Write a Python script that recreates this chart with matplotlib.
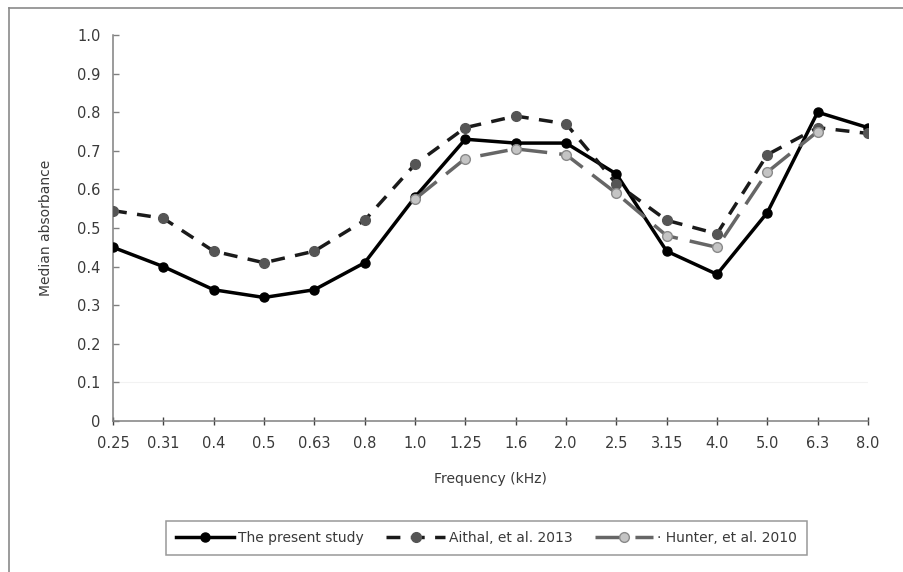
import numpy as np
import matplotlib
matplotlib.use("Agg")
import matplotlib.pyplot as plt
from matplotlib.lines import Line2D

# --- data ---
freq_labels = ["0.25", "0.31", "0.4", "0.5", "0.63", "0.8", "1.0", "1.25",
               "1.6", "2.0", "2.5", "3.15", "4.0", "5.0", "6.3", "8.0"]
present_study = [0.45, 0.40, 0.34, 0.32, 0.34, 0.41, 0.58, 0.73,
                 0.72, 0.72, 0.64, 0.44, 0.38, 0.54, 0.80, 0.76]
aithal_2013 = [0.545, 0.525, 0.44, 0.41, 0.44, 0.52, 0.665, 0.76,
               0.79, 0.77, 0.615, 0.52, 0.485, 0.69, 0.76, 0.745]
hunter_2010 = [np.nan, np.nan, np.nan, np.nan, np.nan, np.nan, 0.575, 0.68,
               0.705, 0.69, 0.59, 0.48, 0.45, 0.645, 0.75, np.nan]
y_ticks = [0, 0.1, 0.2, 0.3, 0.4, 0.5, 0.6, 0.7, 0.8, 0.9, 1.0]
y_tick_labels = ["0", "0.1", "0.2", "0.3", "0.4", "0.5", "0.6", "0.7", "0.8", "0.9", "1.0"]

plt.rcParams['font.family'] = ['DejaVu Sans']
TEXT = '#3a3a3a'
AXIS = '#808080'

fig = plt.figure(figsize=(9.04, 5.72), dpi=100)
ax = fig.add_axes([113 / 904, 1 - 421 / 572, (868 - 113) / 904, (421 - 35) / 572])

x = np.arange(len(freq_labels))

ax.axhline(0.1, color='#f2f2f2', lw=0.8, zorder=0)

ax.plot(x, present_study, color='black', lw=2.5, marker='o', markersize=6.5,
        markerfacecolor='black', markeredgecolor='black', label='The present study', zorder=3)
ax.plot(x, aithal_2013, color='#1a1a1a', lw=2.5, dashes=(4, 3), marker='o', markersize=7,
        markerfacecolor='#555555', markeredgecolor='#555555', label='Aithal, et al. 2013', zorder=4)
ax.plot(x, hunter_2010, color='#666666', lw=2.5, dashes=(8, 3.5), marker='o', markersize=7,
        markerfacecolor='#c4c4c4', markeredgecolor='#8a8a8a', markeredgewidth=1,
        label='\u00b7 Hunter, et al. 2010', zorder=5)

ax.set_xlim(0, len(freq_labels) - 1)
ax.set_ylim(0, 1.0)
ax.set_xticks(x)
ax.set_xticklabels(freq_labels)
ax.set_yticks(y_ticks)
ax.set_yticklabels(y_tick_labels)

for side in ['top', 'right']:
    ax.spines[side].set_visible(False)
for side in ['left', 'bottom']:
    ax.spines[side].set_color(AXIS)
    ax.spines[side].set_linewidth(1.1)

ax.tick_params(axis='x', direction='inout', length=6, width=1, color='#404040',
               labelsize=10.5, labelcolor=TEXT, pad=8)
ax.tick_params(axis='y', direction='in', length=4.5, width=1, color=AXIS,
               labelsize=10.5, labelcolor=TEXT, pad=9)

ax.set_xlabel('Frequency (kHz)', fontsize=10, color=TEXT, labelpad=15)
ax.set_ylabel('Median absorbance', fontsize=10, color=TEXT, labelpad=17)

leg = fig.legend(loc='center', bbox_to_anchor=(486.5 / 904, 1 - 538 / 572), ncol=3,
                 fontsize=10, frameon=True, fancybox=False, handlelength=4.2,
                 columnspacing=1.6, handletextpad=0.3, borderpad=0.7)
leg.get_frame().set_edgecolor('#808080')
leg.get_frame().set_linewidth(1.1)
for t in leg.get_texts():
    t.set_color(TEXT)

# outer frame (only top and left edges visible in the picture)
fig.add_artist(Line2D([9 / 904, 1], [1 - 7.5 / 572, 1 - 7.5 / 572], color='#8a8a8a', lw=1.2))
fig.add_artist(Line2D([9 / 904, 9 / 904], [0, 1 - 7.5 / 572], color='#8a8a8a', lw=1.2))

fig.savefig('out.png', dpi=100)
